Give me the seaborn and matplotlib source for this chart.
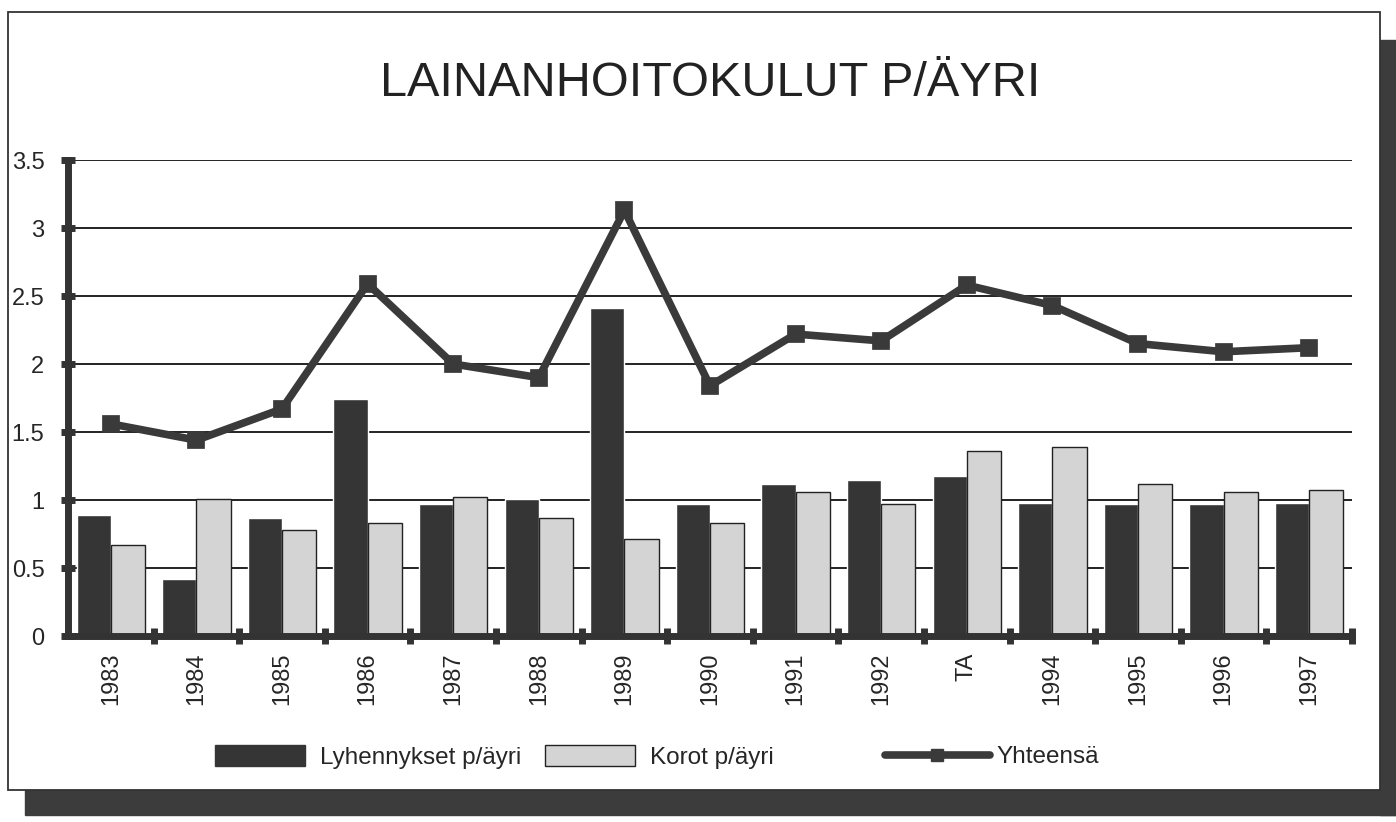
import pandas as pd
import seaborn as sns
import matplotlib.pyplot as plt
from matplotlib.patches import Rectangle, Patch
from matplotlib.lines import Line2D

# data
years = ["1983", "1984", "1985", "1986", "1987", "1988", "1989", "1990",
         "1991", "1992", "TA", "1994", "1995", "1996", "1997"]
lyhennykset = [0.89, 0.42, 0.87, 1.74, 0.97, 1.01, 2.41, 0.97,
               1.12, 1.15, 1.18, 0.98, 0.97, 0.97, 0.98]
korot = [0.67, 1.01, 0.78, 0.83, 1.02, 0.87, 0.71, 0.83,
         1.06, 0.97, 1.36, 1.39, 1.12, 1.06, 1.07]
yhteensa = [1.56, 1.44, 1.67, 2.59, 2.0, 1.9, 3.13, 1.84,
            2.22, 2.17, 2.58, 2.43, 2.15, 2.09, 2.12]
series_names = ["Lyhennykset p/äyri", "Korot p/äyri", "Yhteensä"]

sns.set_style("white")
plt.rcParams['font.family'] = ['Liberation Sans', 'DejaVu Sans']

df = pd.DataFrame({
    "vuosi": years * 2,
    "arvo": lyhennykset + korot,
    "sarja": [series_names[0]] * len(years) + [series_names[1]] * len(years),
})

W, H = 1396, 822
fig = plt.figure(figsize=(W / 100, H / 100), dpi=100)

# frame and shadow behind the axes
fig.patches.append(Rectangle((25 / W, 1 - 815 / H), (W - 25) / W, 25 / H,
                             transform=fig.transFigure, color="#3c3c3c", zorder=-2))
fig.patches.append(Rectangle((1380 / W, 1 - 815 / H), 16 / W, 775 / H,
                             transform=fig.transFigure, color="#3c3c3c", zorder=-2))
fig.patches.append(Rectangle((8 / W, 1 - 790 / H), 1372 / W, 778 / H,
                             transform=fig.transFigure, facecolor="white",
                             edgecolor="#333333", lw=1.3, zorder=-1))

ax = fig.add_axes([68 / W, 1 - 636 / H, (1352 - 68) / W, (636 - 160) / H])
ax.patch.set_alpha(0)

sns.barplot(data=df, x="vuosi", y="arvo", hue="sarja", order=years,
            palette=["#353535", "#d4d4d4"], width=0.8, gap=0, legend=False, ax=ax)
for bar in ax.patches[len(years):]:
    bar.set_edgecolor("#222222")
    bar.set_linewidth(1.0)

sns.pointplot(x=years, y=yhteensa, order=years, color="#3a3a3a", markers="s",
              markersize=8, linewidth=5.5, ax=ax)

ax.set_ylim(0, 3.5)
ax.set_xlim(-0.5, 14.5)
ax.set_yticks([0, 0.5, 1, 1.5, 2, 2.5, 3, 3.5])
ax.set_yticklabels(["0", "0.5", "1", "1.5", "2", "2.5", "3", "3.5"], fontsize=17)
ax.set_xticks(range(len(years)))
ax.set_xticklabels(years, rotation=90, fontsize=17)
ax.set_xticks([i + 0.5 for i in range(len(years))], minor=True)
ax.tick_params(axis="x", which="major", bottom=True, length=0, pad=12)
ax.tick_params(axis="x", which="minor", bottom=True, length=12, width=5,
               color="#333333", direction="inout")
ax.tick_params(axis="y", left=True, length=10, width=5, color="#333333",
               direction="inout", pad=12)
ax.set_xlabel("")
ax.set_ylabel("")

ax.yaxis.grid(True, color="#111111", lw=1.3)
ax.set_axisbelow(True)
for s in ["top", "right"]:
    ax.spines[s].set_visible(False)
for s in ["left", "bottom"]:
    ax.spines[s].set_linewidth(5)
    ax.spines[s].set_color("#333333")

fig.text(0.509, 1 - 83 / H, "LAINANHOITOKULUT P/ÄYRI", ha="center", va="center",
         fontsize=35, color="#222222")

bar_handles = [Patch(facecolor="#353535", edgecolor="#353535"),
               Patch(facecolor="#d4d4d4", edgecolor="#222222")]
line_handle = [Line2D([0], [0], color="#3a3a3a", lw=5.5, marker="s", markersize=8)]
fig.legend(bar_handles, series_names[:2], loc="center left",
           bbox_to_anchor=(215 / W, 1 - 757 / H), ncol=2, frameon=False,
           fontsize=17.5, handlelength=3.7, handleheight=0.95, handletextpad=0.6,
           columnspacing=1.0, borderpad=0, borderaxespad=0)
fig.legend(line_handle, series_names[2:], loc="center left",
           bbox_to_anchor=(885 / W, 1 - 757 / H), frameon=False,
           fontsize=17.5, handlelength=4.3, handletextpad=0.3,
           borderpad=0, borderaxespad=0)

plt.savefig("out.png", dpi=100)
